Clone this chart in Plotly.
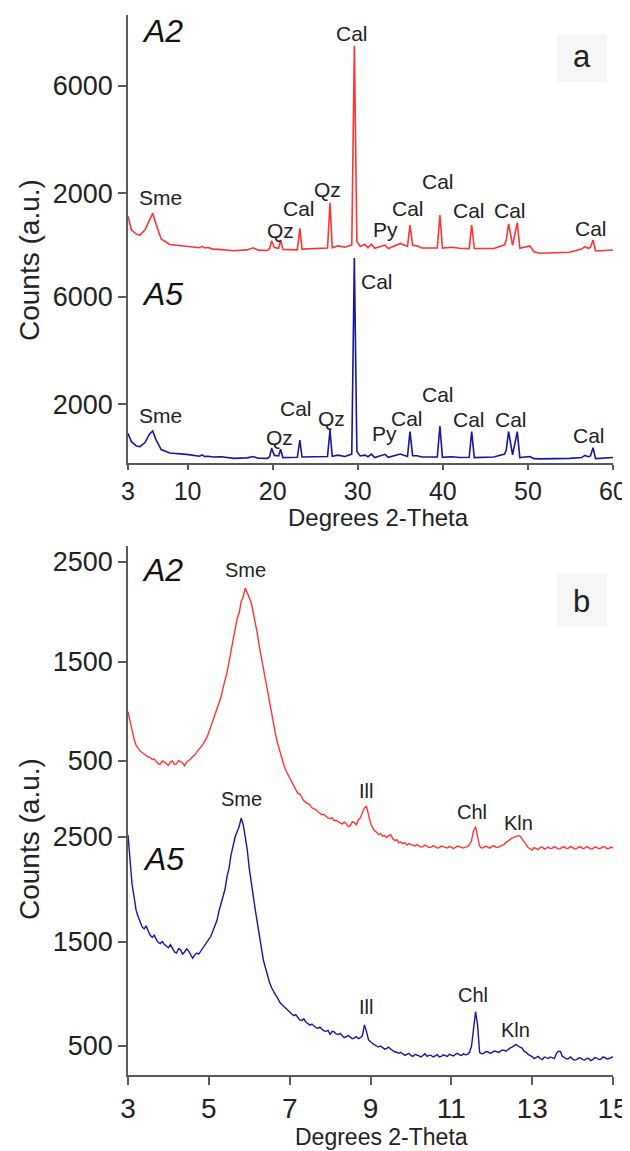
import plotly.graph_objects as go

# ---------------- data ----------------
# Panel a: bulk XRD, 3-60 deg 2-theta
PA_X = [3.0, 3.4, 4.0, 4.4, 5.0, 5.5, 5.9, 6.3, 6.9, 7.9,
        9.9, 11.4, 11.7, 12.0, 12.4, 13.0, 14.0, 15.4, 17.0, 17.7,
        18.3, 19.4, 19.65, 19.88, 20.2, 20.7, 20.94, 21.2, 22.9, 23.2,
        23.45, 25.5, 26.45, 26.74, 27.0, 27.7, 28.5, 29.3, 29.6, 29.9,
        30.3, 30.85, 31.2, 31.6, 32.0, 33.2, 33.6, 35.0, 35.85, 36.14,
        36.45, 37.0, 37.5, 39.35, 39.66, 39.95, 41.0, 42.0, 43.1, 43.39,
        43.7, 46.0, 47.25, 47.45, 47.73, 48.2, 48.75, 49.05, 50.24, 50.7,
        51.4, 54.9, 56.3, 56.7, 57.1, 57.35, 57.65, 57.95, 60.0]
PA_A2 = [1150, 640, 470, 445, 640, 1000, 1254, 850, 300, 90,
         10, -30, 20, -40, -20, -80, -100, -140, -110, -30,
         -120, -130, -60, 233, -20, -50, 259, -90, -110, 695,
         -80, -50, -40, 1650, -30, 40, -10, 80, 7502, 200,
         20, 90, -30, 100, -50, 70, -60, 130, 20, 818,
         60, 40, -40, -40, 1191, -40, -10, -50, -60, 818,
         -60, -60, 80, 250, 856, 60, 905, -50, 40, -180,
         -237, -200, -80, 10, -50, -20, 259, -150, -115]
PA_A5 = [922, 610, 450, 424, 580, 880, 1007, 680, 320, 190,
         140, 70, 120, 60, 70, 40, 50, -10, 10, 60,
         -5, -10, 60, 364, 100, 80, 327, 20, 30, 673,
         40, 52, 60, 1045, 70, 110, 60, 150, 7439, 250,
         80, 110, 50, 150, 20, 140, 30, 150, 60, 982,
         90, 90, 40, 40, 1193, 30, 50, 20, 30, 982,
         20, 40, 150, 300, 982, 120, 982, 20, 60, -20,
         -30, -10, 20, 100, 50, 80, 387, -20, 20]

# Panel b: clay fraction, 3-15 deg 2-theta (0.05 deg steps)
PB_X = [3.00, 3.05, 3.10, 3.15, 3.20, 3.25, 3.30, 3.35, 3.40, 3.45,
        3.50, 3.55, 3.60, 3.65, 3.70, 3.75, 3.80, 3.85, 3.90, 3.95,
        4.00, 4.05, 4.10, 4.15, 4.20, 4.25, 4.30, 4.35, 4.40, 4.45,
        4.50, 4.55, 4.60, 4.65, 4.70, 4.75, 4.80, 4.85, 4.90, 4.95,
        5.00, 5.05, 5.10, 5.15, 5.20, 5.25, 5.30, 5.35, 5.40, 5.45,
        5.50, 5.55, 5.60, 5.65, 5.70, 5.75, 5.80, 5.85, 5.90, 5.95,
        6.00, 6.05, 6.10, 6.15, 6.20, 6.25, 6.30, 6.35, 6.40, 6.45,
        6.50, 6.55, 6.60, 6.65, 6.70, 6.75, 6.80, 6.85, 6.90, 6.95,
        7.00, 7.05, 7.10, 7.15, 7.20, 7.25, 7.30, 7.35, 7.40, 7.45,
        7.50, 7.55, 7.60, 7.65, 7.70, 7.75, 7.80, 7.85, 7.90, 7.95,
        8.00, 8.05, 8.10, 8.15, 8.20, 8.25, 8.30, 8.35, 8.40, 8.45,
        8.50, 8.55, 8.60, 8.65, 8.70, 8.75, 8.80, 8.85, 8.90, 8.95,
        9.00, 9.05, 9.10, 9.15, 9.20, 9.25, 9.30, 9.35, 9.40, 9.45,
        9.50, 9.55, 9.60, 9.65, 9.70, 9.75, 9.80, 9.85, 9.90, 9.95,
        10.00, 10.05, 10.10, 10.15, 10.20, 10.25, 10.30, 10.35, 10.40, 10.45,
        10.50, 10.55, 10.60, 10.65, 10.70, 10.75, 10.80, 10.85, 10.90, 10.95,
        11.00, 11.05, 11.10, 11.15, 11.20, 11.25, 11.30, 11.35, 11.40, 11.45,
        11.50, 11.55, 11.60, 11.65, 11.70, 11.75, 11.80, 11.85, 11.90, 11.95,
        12.00, 12.05, 12.10, 12.15, 12.20, 12.25, 12.30, 12.35, 12.40, 12.45,
        12.50, 12.55, 12.60, 12.65, 12.70, 12.75, 12.80, 12.85, 12.90, 12.95,
        13.00, 13.05, 13.10, 13.15, 13.20, 13.25, 13.30, 13.35, 13.40, 13.45,
        13.50, 13.55, 13.60, 13.65, 13.70, 13.75, 13.80, 13.85, 13.90, 13.95,
        14.00, 14.05, 14.10, 14.15, 14.20, 14.25, 14.30, 14.35, 14.40, 14.45,
        14.50, 14.55, 14.60, 14.65, 14.70, 14.75, 14.80, 14.85, 14.90, 14.95,
        15.00]
PB_A2 = [996, 900, 830, 720, 660, 625, 600, 585, 570, 560,
         540, 535, 515, 520, 500, 470, 470, 500, 490, 470,
         455, 490, 500, 465, 470, 505, 495, 480, 450, 490,
         505, 520, 545, 560, 590, 610, 640, 665, 700, 735,
         790, 850, 900, 950, 1010, 1085, 1140, 1230, 1300, 1390,
         1500, 1610, 1740, 1820, 1930, 1990, 2100, 2150, 2236, 2190,
         2140, 2090, 1990, 1900, 1780, 1650, 1540, 1420, 1300, 1200,
         1080, 960, 860, 770, 680, 610, 520, 470, 410, 370,
         320, 290, 245, 215, 175, 170, 140, 100, 85, 75,
         60, 30, 20, 10, -10, -30, -40, -35, -60, -75,
         -80, -70, -100, -95, -110, -125, -135, -115, -130, -160,
         -150, -110, -120, -140, -90, -70, -10, 30, 41, -40,
         -120, -170, -200, -215, -240, -230, -255, -250, -270, -250,
         -240, -280, -300, -290, -320, -315, -330, -320, -345, -330,
         -340, -350, -355, -340, -350, -365, -360, -345, -355, -370,
         -365, -350, -360, -375, -370, -355, -360, -365, -375, -360,
         -365, -380, -370, -355, -360, -370, -375, -365, -360, -340,
         -300, -200, -160, -260, -355, -375, -370, -355, -365, -375,
         -360, -350, -365, -370, -355, -350, -340, -320, -300, -290,
         -275, -265, -260, -250, -255, -280, -310, -340, -370, -385,
         -395, -370, -380, -390, -370, -365, -385, -375, -365, -380,
         -375, -360, -370, -385, -380, -365, -365, -380, -375, -360,
         -370, -385, -380, -365, -365, -380, -375, -360, -370, -385,
         -380, -365, -370, -380, -375, -360, -365, -380, -380, -365,
         -375]
PB_A5 = [2520, 2250, 2050, 1930, 1800, 1740, 1690, 1640, 1620, 1650,
         1600, 1560, 1540, 1560, 1520, 1490, 1480, 1500, 1470, 1450,
         1440, 1470, 1430, 1400, 1390, 1430, 1420, 1380, 1400, 1430,
         1410, 1380, 1340, 1370, 1390, 1380, 1410, 1440, 1460, 1490,
         1520, 1550, 1600, 1650, 1700, 1790, 1870, 1920, 2000, 2120,
         2200, 2330, 2420, 2500, 2550, 2600, 2679, 2620, 2503, 2380,
         2200, 2050, 1929, 1800, 1680, 1560, 1430, 1320, 1250, 1170,
         1110, 1060, 1020, 990, 960, 920, 900, 880, 860, 850,
         830, 810, 790, 800, 770, 750, 745, 760, 730, 715,
         700, 710, 690, 675, 670, 680, 660, 645, 640, 650,
         610, 640, 635, 615, 610, 620, 600, 580, 590, 600,
         585, 570, 575, 590, 570, 580, 600, 701, 640, 560,
         540, 520, 510, 500, 490, 500, 485, 470, 478, 490,
         470, 455, 445, 440, 430, 440, 425, 410, 420, 430,
         410, 400, 420, 415, 405, 395, 415, 425, 400, 410,
         410, 395, 405, 420, 395, 400, 415, 405, 400, 420,
         410, 405, 420, 430, 415, 410, 425, 415, 420, 440,
         500, 650, 828, 700, 440, 425, 430, 445, 445, 430,
         435, 450, 450, 440, 445, 460, 460, 450, 470, 480,
         490, 500, 515, 500, 490, 480, 450, 440, 420, 410,
         398, 380, 390, 400, 380, 370, 395, 385, 380, 395,
         390, 380, 430, 450, 446, 400, 390, 375, 380, 395,
         375, 365, 370, 385, 385, 370, 365, 380, 380, 360,
         370, 390, 385, 370, 375, 395, 390, 375, 380, 390,
         398]

PA_XTICKS = [3, 10, 20, 30, 40, 50, 60]
PB_XTICKS = [3, 5, 7, 9, 11, 13, 15]
PA_YTICKS = [2000, 6000]
PB_YTICKS = [500, 1500, 2500]

# peak labels: (text, x, y) in each trace's own axis units
LAB_A2A = [("Sme", 6.82, 1843), ("Qz", 20.98, 632), ("Cal", 23.1, 1433),
           ("Qz", 26.5, 2142), ("Cal", 29.38, 7957), ("Py", 33.26, 662),
           ("Cal", 35.9, 1433), ("Cal", 39.49, 2440), ("Cal", 43.13, 1377),
           ("Cal", 47.95, 1377), ("Cal", 57.46, 688)]
LAB_A5A = [("Sme", 6.82, 1602), ("Qz", 20.8, 784), ("Cal", 22.8, 1844),
           ("Qz", 26.86, 1472), ("Cal", 32.26, 6565), ("Py", 33.17, 915),
           ("Cal", 35.84, 1472), ("Cal", 39.49, 2346), ("Cal", 43.02, 1420),
           ("Cal", 48.06, 1420), ("Cal", 57.23, 859)]
LAB_A2B = [("Sme", 5.90, 2420), ("Ill", 8.89, 203), ("Chl", 11.51, -8),
           ("Kln", 12.65, -128)]
LAB_A5B = [("Sme", 5.81, 2859), ("Ill", 8.89, 878), ("Chl", 11.54, 988),
           ("Kln", 12.58, 653)]

assert len(PA_X) == len(PA_A2) == len(PA_A5)
assert len(PB_X) == len(PB_A2) == len(PB_A5)

# ---------------- layout geometry ----------------
# the page body adds an 8 px offset, so the figure is 8 px smaller
OFF = 8
W, H = 630 - OFF, 1151 - OFF
PLOT_L, PLOT_R, PLOT_T, PLOT_B = 128, 613, 15, 1075   # target page pixels
ML, MR = PLOT_L - OFF, W - (PLOT_R - OFF)
MT, MB = PLOT_T - OFF, H - (PLOT_B - OFF)
PH = PLOT_B - PLOT_T
PW = PLOT_R - PLOT_L


def fy(px):
    return (PLOT_B - px) / PH


def fx(px):
    return (px - PLOT_L) / PW


FONT = "Liberation Sans, Arial, sans-serif"
TXT = "#222222"
AX = "#5a5a5a"
RED = "#ff3333"
BLUE = "#1616a0"

fig = go.Figure()
fig.add_trace(go.Scatter(x=PA_X, y=PA_A2, xaxis="x", yaxis="y2", mode="lines",
                         line=dict(color=RED, width=1.6), name="A2"))
fig.add_trace(go.Scatter(x=PA_X, y=PA_A5, xaxis="x", yaxis="y", mode="lines",
                         line=dict(color=BLUE, width=1.6), name="A5"))
fig.add_trace(go.Scatter(x=PB_X, y=PB_A2, xaxis="x2", yaxis="y4", mode="lines",
                         line=dict(color=RED, width=1.4), name="A2"))
fig.add_trace(go.Scatter(x=PB_X, y=PB_A5, xaxis="x2", yaxis="y3", mode="lines",
                         line=dict(color=BLUE, width=1.4), name="A5"))

common = dict(showline=True, linecolor=AX, linewidth=1.5, ticks="outside",
              tickcolor=AX, tickwidth=1.5, showgrid=False, zeroline=False,
              automargin=False, fixedrange=True)

fig.update_layout(
    width=W, height=H, showlegend=False,
    margin=dict(l=ML, r=MR, t=MT, b=MB, pad=0),
    paper_bgcolor="white", plot_bgcolor="rgba(0,0,0,0)",
    font=dict(family=FONT, color=TXT),
    xaxis=dict(common, domain=[0, 1], anchor="y", range=[3, 60],
               tickvals=PA_XTICKS, ticklen=5,
               tickfont=dict(size=25, color=TXT)),
    xaxis2=dict(common, domain=[0, 1], anchor="y3", range=[3, 15],
                tickvals=PB_XTICKS, ticklen=8,
                tickfont=dict(size=28, color=TXT)),
    yaxis=dict(common, domain=[fy(463), fy(250)], anchor="x",
               range=[-182, 7736], tickvals=PA_YTICKS, ticklen=8,
               tickfont=dict(size=27, color=TXT)),
    yaxis2=dict(common, domain=[fy(262), 1], anchor="x",
                range=[-561, 8647], tickvals=PA_YTICKS, ticklen=8,
                tickfont=dict(size=27, color=TXT)),
    yaxis3=dict(common, domain=[0, fy(785)], anchor="x2",
                range=[222.5, 2997.6], tickvals=PB_YTICKS, ticklen=8,
                tickfont=dict(size=27, color=TXT)),
    yaxis4=dict(common, domain=[fy(880), fy(546)], anchor="x2",
                range=[-696, 2661], tickvals=PB_YTICKS, ticklen=8,
                tickfont=dict(size=27, color=TXT)),
)

ann = []
for labs, xr, yr, size in [(LAB_A2A, "x", "y2", 21), (LAB_A5A, "x", "y", 21),
                           (LAB_A2B, "x2", "y4", 20), (LAB_A5B, "x2", "y3", 20)]:
    for t, xv, yv in labs:
        ann.append(dict(text=t, x=xv, y=yv, xref=xr, yref=yr, showarrow=False,
                        xanchor="center", yanchor="middle",
                        font=dict(size=size, color=TXT, family=FONT)))

# sample names
for t, xv, yv, xr, yr in [("A2", 7.11, 8050, "x", "y2"), ("A5", 7.11, 6100, "x", "y"),
                          ("A2", 3.85, 2420, "x2", "y4"), ("A5", 3.87, 2294, "x2", "y3")]:
    ann.append(dict(text="<i>" + t + "</i>", x=xv, y=yv, xref=xr, yref=yr,
                    showarrow=False, xanchor="center", yanchor="middle",
                    font=dict(size=32, color="#111111", family=FONT)))

# panel letters
for t, cy in [("a", 56), ("b", 601)]:
    ann.append(dict(text=t, x=fx(581.5), y=fy(cy), xref="paper", yref="paper",
                    showarrow=False, xanchor="center", yanchor="middle",
                    font=dict(size=31, color=TXT, family=FONT)))

# axis titles
for cy in [260, 839]:
    ann.append(dict(text="Counts (a.u.)", x=fx(29), y=fy(cy), xref="paper",
                    yref="paper", showarrow=False, textangle=-90,
                    xanchor="center", yanchor="middle",
                    font=dict(size=28, color=TXT, family=FONT)))
ann.append(dict(text="Degrees 2-Theta", x=fx(378), y=fy(517), xref="paper",
                yref="paper", showarrow=False, xanchor="center", yanchor="middle",
                font=dict(size=24, color=TXT, family=FONT)))
ann.append(dict(text="Degrees 2-Theta", x=fx(381.5), y=fy(1137), xref="paper",
                yref="paper", showarrow=False, xanchor="center", yanchor="middle",
                font=dict(size=23, color=TXT, family=FONT)))
fig.update_layout(annotations=ann)

# faint boxes behind panel letters
shapes = []
for y0, y1 in [(35, 82), (573, 627)]:
    shapes.append(dict(type="rect", xref="paper", yref="paper",
                       x0=fx(557), x1=fx(607), y0=fy(y1), y1=fy(y0),
                       fillcolor="#f6f6f6", line=dict(width=0), layer="below"))
fig.update_layout(shapes=shapes)

fig.write_html("out.html")
